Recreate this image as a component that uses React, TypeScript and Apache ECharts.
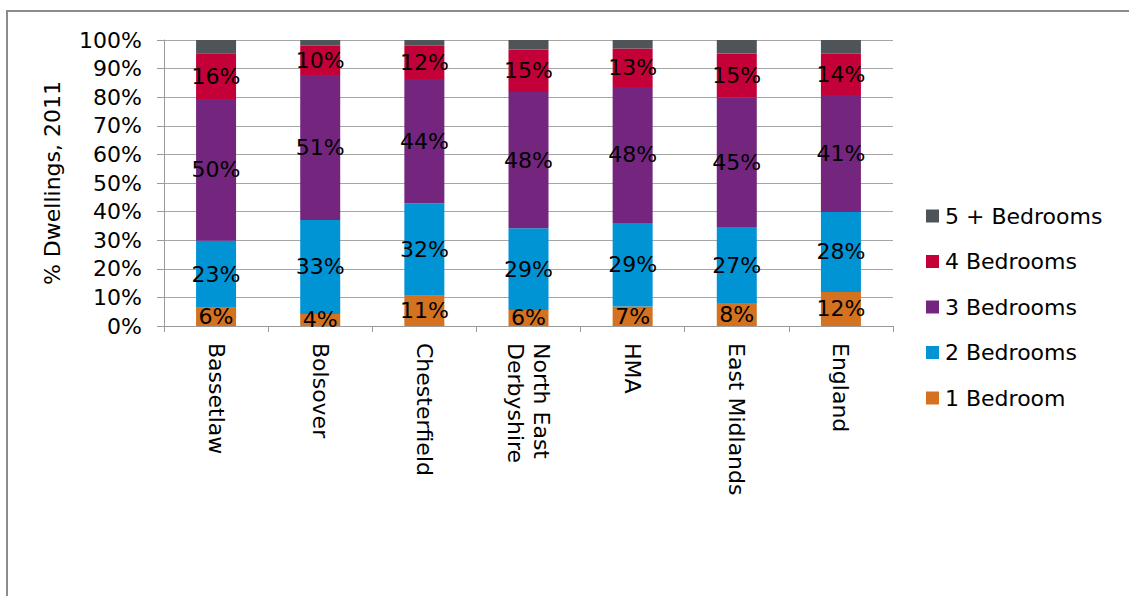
import React, { useEffect, useRef } from "react";
import * as echarts from "echarts";

const categories = [
  "Bassetlaw",
  "Bolsover",
  "Chesterfield",
  "North East\nDerbyshire",
  "HMA",
  "East Midlands",
  "England",
];

const oneBed = [6.4, 4.2, 10.6, 5.6, 6.8, 8.0, 11.9];
const twoBed = [23.4, 32.9, 32.2, 28.6, 29.2, 26.6, 28.0];
const threeBed = [49.6, 50.7, 43.6, 47.6, 47.6, 45.4, 40.9];
const fourBed = [16.0, 10.2, 11.6, 14.9, 13.4, 15.3, 14.4];
const fiveBed = [4.6, 2.0, 2.0, 3.3, 3.0, 4.7, 4.8];

const seriesNames = ["1 Bedroom", "2 Bedrooms", "3 Bedrooms", "4 Bedrooms", "5 + Bedrooms"];
const seriesColors = ["#D47220", "#0094D5", "#74267E", "#C40039", "#4F5459"];
const yTicks = [0, 10, 20, 30, 40, 50, 60, 70, 80, 90, 100];

const FONT = "DejaVu Sans";

export default function App() {
  const ref = useRef<HTMLDivElement>(null);
  useEffect(() => {
    if (!ref.current) return;
    const chart = echarts.init(ref.current, undefined, { renderer: "svg" });
    const data = [oneBed, twoBed, threeBed, fourBed, fiveBed];
    chart.setOption({
      animation: false,
      backgroundColor: "#ffffff",
      textStyle: { fontFamily: FONT },
      graphic: [
        {
          type: "line",
          shape: { x1: 6, y1: 11, x2: 1129, y2: 11 },
          style: { stroke: "#8c8c8c", lineWidth: 2 },
        },
        {
          type: "line",
          shape: { x1: 7, y1: 10, x2: 7, y2: 596 },
          style: { stroke: "#8c8c8c", lineWidth: 2 },
        },
      ],
      grid: { left: 164, right: 236, top: 40, bottom: 270, containLabel: false },
      legend: {
        orient: "vertical",
        left: 921,
        top: 198,
        itemWidth: 13,
        itemHeight: 13,
        itemGap: 19.5,
        icon: "rect",
        data: [...seriesNames].reverse(),
        textStyle: { fontFamily: FONT, fontSize: 22, color: "#000", lineHeight: 26, padding: [0, 0, 0, 1] },
      },
      xAxis: {
        type: "category",
        data: categories,
        axisLine: { lineStyle: { color: "#9a9a9a", width: 1 } },
        axisTick: { show: true, length: 6, lineStyle: { color: "#9a9a9a" } },
        axisLabel: {
          rotate: -90,
          margin: 17,
          fontFamily: FONT,
          fontSize: 22,
          color: "#000",
          lineHeight: 26,
          interval: 0,
        },
      },
      yAxis: {
        type: "value",
        min: yTicks[0],
        max: yTicks[yTicks.length - 1],
        interval: 10,
        name: "% Dwellings, 2011",
        nameLocation: "middle",
        nameGap: 101,
        nameRotate: 90,
        nameTextStyle: { fontFamily: FONT, fontSize: 22, color: "#000" },
        axisLine: { show: true, lineStyle: { color: "#9a9a9a", width: 1 } },
        axisTick: { show: true, length: 7, lineStyle: { color: "#9a9a9a" } },
        splitLine: { show: true, lineStyle: { color: "#a6a6a6", width: 1 } },
        axisLabel: {
          formatter: "{value}%",
          margin: 22,
          fontFamily: FONT,
          fontSize: 22,
          color: "#000",
        },
      },
      series: seriesNames.map((name, i) => ({
        name,
        type: "bar",
        stack: "total",
        barWidth: 40,
        data: data[i],
        itemStyle: { color: seriesColors[i] },
        label: {
          show: i < 4,
          position: "inside",
          fontFamily: FONT,
          fontSize: 22,
          color: "#000",
          formatter: (p: any) => Math.round(p.value) + "%",
        },
        labelLayout: { hideOverlap: false },
      })),
    });
    return () => chart.dispose();
  }, []);
  return (
    <div
      ref={ref}
      style={{ position: "fixed", left: 0, top: 0, width: 1129, height: 596, background: "#fff" }}
    />
  );
}
